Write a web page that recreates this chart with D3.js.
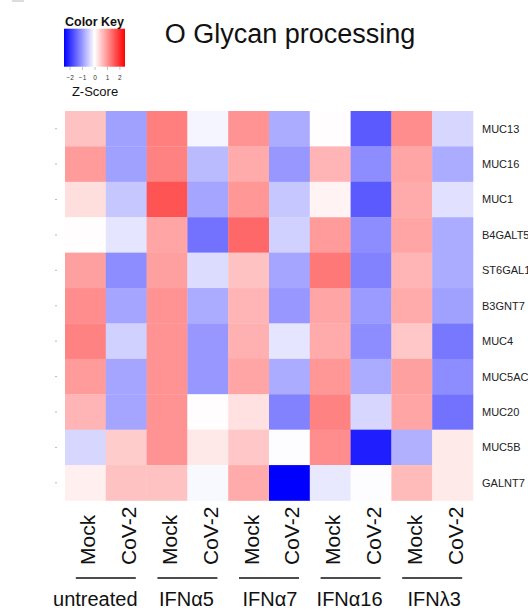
<!DOCTYPE html>
<html><head><meta charset="utf-8">
<script src="https://cdn.jsdelivr.net/npm/d3@7"></script>
<style>html,body{margin:0;padding:0;background:#fff;}svg{display:block;font-family:Arial,"Liberation Sans",Helvetica,sans-serif;}</style>
</head><body>
<svg id="chart" width="528" height="611"></svg>
<script>
const genes = ["MUC13","MUC16","MUC1","B4GALT5","ST6GAL1","B3GNT7","MUC4","MUC5AC","MUC20","MUC5B","GALNT7"];
const columns = ["Mock","CoV-2","Mock","CoV-2","Mock","CoV-2","Mock","CoV-2","Mock","CoV-2"];
const groups = ["untreated","IFNα5","IFNα7","IFNα16","IFNλ3"];
const keyTicks = [-2,-1,0,1,2];
// z-scores, one array per gene (row), in column order
const zMUC13   = [0.59,-0.91,1.23,-0.10,1.05,-0.81,0.02,-1.59,1.10,-0.39];
const zMUC16   = [0.96,-0.91,1.20,-0.66,0.81,-1.00,0.71,-1.10,0.86,-0.81];
const zMUC1    = [0.32,-0.54,1.64,-0.86,1.00,-0.54,0.12,-1.59,0.81,-0.29];
const zB4GALT5 = [0.02,-0.25,0.86,-1.35,1.45,-0.44,0.96,-1.10,0.86,-0.81];
const zST6GAL1 = [0.91,-1.10,0.91,-0.34,0.59,-0.86,1.30,-1.20,0.71,-0.81];
const zB3GNT7  = [1.10,-0.86,1.05,-0.81,0.71,-1.00,0.86,-0.96,0.81,-0.91];
const zMUC4    = [1.20,-0.44,1.05,-1.00,0.76,-0.25,0.81,-1.10,0.54,-1.30];
const zMUC5AC  = [0.96,-0.86,1.05,-1.00,0.86,-0.81,1.00,-0.81,0.91,-1.10];
const zMUC20   = [0.71,-0.86,1.05,0.02,0.29,-1.20,1.20,-0.39,0.86,-1.35];
const zMUC5B   = [-0.39,0.49,1.05,0.22,0.54,-0.02,1.10,-2.16,-0.76,0.20];
const zGALNT7  = [0.15,0.59,0.59,-0.07,0.81,-2.45,-0.22,-0.02,0.66,0.20];
const zRows = [zMUC13,zMUC16,zMUC1,zB4GALT5,zST6GAL1,zB3GNT7,zMUC4,zMUC5AC,zMUC20,zMUC5B,zGALNT7];
const zLimit = 2.45;

const svg = d3.select("#chart");
const color = d3.scaleLinear().domain([-zLimit,0,zLimit]).range(["#0000ff","#ffffff","#ff0000"]).clamp(true);

const hm = {x0:65, x1:473, y0:111, y1:500.5};
const colIdx = d3.range(columns.length);
const x = d3.scaleBand().domain(colIdx).range([hm.x0, hm.x1]).padding(0);
const y = d3.scaleBand().domain(genes).range([hm.y0, hm.y1]).padding(0);

const cells = [];
zRows.forEach((row,i)=>row.forEach((v,j)=>cells.push({gene:genes[i], col:j, v})));

svg.append("g").selectAll("rect").data(cells).join("rect")
  .attr("x", d=>x(d.col)).attr("y", d=>y(d.gene))
  .attr("width", x.bandwidth()+0.3).attr("height", y.bandwidth()+0.3)
  .attr("fill", d=>color(d.v));

// faint left ticks
svg.append("g").selectAll("line").data(genes).join("line")
  .attr("x1",55).attr("x2",57)
  .attr("y1", d=>y(d)+y.bandwidth()/2).attr("y2", d=>y(d)+y.bandwidth()/2)
  .attr("stroke","#bbb").attr("stroke-width",1);

// row labels
svg.append("g").selectAll("text").data(genes).join("text")
  .attr("x", hm.x1+9).attr("y", d=>y(d)+y.bandwidth()/2)
  .attr("dy","0.36em").attr("font-size",11).attr("fill","#222")
  .text(d=>d);

// column labels
svg.append("g").selectAll("text").data(colIdx).join("text")
  .attr("transform", d=>`translate(${x(d)+x.bandwidth()/2+10},565) rotate(-90)`)
  .attr("text-anchor","start").attr("font-size",21).attr("fill","#111")
  .text(d=>columns[d]);

// group lines and labels
const gOffsets = [-10.5,-1,1,-1,2];
groups.forEach((g,k)=>{
  const cx = (x(2*k) + x(2*k+1) + x.bandwidth())/2;
  svg.append("line").attr("x1",cx-30).attr("x2",cx+30).attr("y1",578).attr("y2",578)
    .attr("stroke","#111").attr("stroke-width",1.3);
  svg.append("text").attr("x",cx+gOffsets[k]).attr("y",606).attr("text-anchor","middle")
    .attr("font-size",20).attr("fill","#111").text(g);
});

// title
svg.append("text").attr("x",290).attr("y",43).attr("text-anchor","middle")
  .attr("font-size",27).attr("fill","#111").text("O Glycan processing");

// color key
const kx = d3.scaleLinear().domain([-zLimit,zLimit]).range([64,125]);
const defs = svg.append("defs");
const grad = defs.append("linearGradient").attr("id","keygrad");
d3.range(0,1.0001,0.05).forEach(t=>{
  grad.append("stop").attr("offset",t).attr("stop-color",color(-zLimit+2*zLimit*t));
});
svg.append("rect").attr("x",64).attr("y",28.7).attr("width",61).attr("height",38).attr("fill","url(#keygrad)");
svg.append("text").attr("x",94.5).attr("y",26).attr("text-anchor","middle")
  .attr("font-size",12.5).attr("font-weight","bold").attr("fill","#111").text("Color Key");
const keyAxis = d3.axisBottom(kx).tickValues(keyTicks).tickSize(3).tickFormat(d3.format("d"));
const ka = svg.append("g").attr("transform","translate(0,67)").call(keyAxis);
ka.select(".domain").remove();
ka.selectAll("line").attr("stroke","#999").attr("stroke-width",0.6);
ka.selectAll("text").attr("font-size",6.5).attr("fill","#333").attr("dy","1.1em")
  .style("font-family","Arial,'Liberation Sans',sans-serif");
svg.append("text").attr("x",95).attr("y",96).attr("text-anchor","middle")
  .attr("font-size",13).attr("fill","#111").text("Z-Score");

// tiny mark top-left
svg.append("rect").attr("x",12).attr("y",0).attr("width",12).attr("height",2).attr("fill","#ddd");
</script>
</body></html>
